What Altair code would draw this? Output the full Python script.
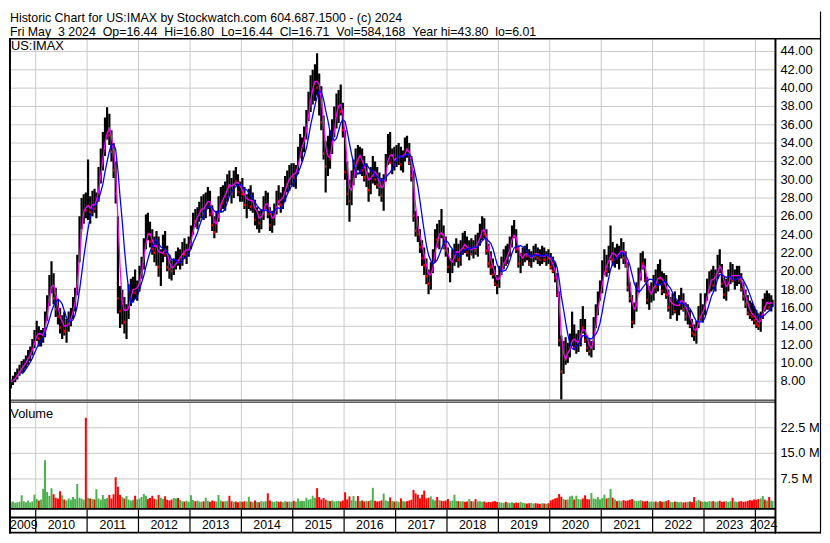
import altair as alt
import pandas as pd

# ---------------- data (half-month bins: low, high, close) ----------------
P2009 = [(7.2, 8.2, 7.9), (7.6, 8.6, 8.3), (7.9, 9.0, 8.6), (8.2, 9.4, 9.0),
         (8.6, 9.8, 9.4), (8.9, 10.2, 9.6), (9.0, 10.4, 10.0), (9.4, 10.8, 10.4),
         (9.8, 11.4, 11.0), (10.2, 11.8, 11.2), (10.8, 12.6, 12.0), (11.6, 13.6, 13.2)]
P2010 = [(12.4, 14.6, 13.6), (11.8, 14.0, 12.8), (11.8, 13.6, 13.0), (12.2, 13.8, 13.2),
         (12.8, 15.6, 15.2), (14.6, 17.4, 16.8), (16.2, 19.6, 18.8), (17.6, 21.1, 19.4),
         (16.4, 19.8, 17.2), (15.0, 18.2, 16.0), (14.2, 17.0, 15.2), (13.2, 16.0, 14.0),
         (12.6, 15.2, 14.4), (13.0, 15.6, 13.6), (12.2, 14.8, 14.2), (13.4, 15.6, 14.8),
         (14.0, 16.0, 15.4), (14.8, 17.2, 16.6), (15.6, 18.2, 17.8), (17.4, 21.8, 21.2),
         (21.0, 26.0, 25.4), (24.6, 28.0, 26.4), (25.2, 28.4, 27.6), (25.8, 28.6, 26.8)]
P2011 = [(25.6, 32.2, 27.2), (25.2, 28.2, 26.6), (26.0, 28.8, 28.0), (26.4, 29.0, 27.0),
         (25.8, 28.6, 28.2), (27.6, 31.4, 30.8), (29.6, 33.4, 32.6), (31.0, 35.2, 33.4),
         (32.6, 36.8, 35.8), (34.4, 37.9, 36.0), (33.8, 37.2, 35.0), (32.0, 35.4, 33.2),
         (30.2, 34.0, 31.2), (27.4, 32.0, 28.6), (15.4, 26.0, 17.2), (13.8, 18.4, 15.8),
         (14.2, 18.0, 16.8), (13.2, 17.2, 14.6), (12.6, 16.4, 15.8), (14.8, 18.6, 17.6),
         (16.2, 19.2, 17.8), (16.6, 19.4, 18.6), (17.0, 20.2, 17.8), (16.8, 19.0, 18.2)]
P2012 = [(17.8, 20.6, 20.2), (19.2, 21.6, 21.0), (20.2, 23.6, 23.0), (22.4, 26.2, 24.8),
         (23.4, 26.4, 24.2), (22.6, 25.4, 23.4), (21.8, 24.6, 22.6), (21.0, 23.8, 22.2),
         (20.6, 24.4, 23.6), (19.4, 23.8, 20.6), (18.4, 22.4, 22.0), (21.0, 24.0, 23.2),
         (21.6, 24.4, 22.0), (20.0, 22.8, 20.6), (19.2, 21.8, 20.4), (19.0, 21.2, 20.2),
         (19.6, 21.4, 20.8), (20.2, 22.2, 21.4), (20.6, 22.6, 21.2), (20.2, 22.4, 21.8),
         (20.6, 23.2, 22.6), (21.4, 23.6, 22.0), (20.8, 23.0, 22.4), (21.6, 23.8, 22.6)]
P2013 = [(22.4, 25.0, 24.6), (24.0, 26.4, 25.8), (24.8, 26.8, 25.6), (24.6, 27.0, 26.4),
         (25.4, 27.6, 26.8), (25.8, 28.2, 27.2), (25.6, 28.4, 26.4), (25.8, 28.6, 28.0),
         (26.8, 29.2, 28.4), (26.0, 28.8, 26.4), (24.4, 27.2, 25.2), (23.6, 26.0, 24.4),
         (24.2, 26.6, 26.0), (25.4, 28.2, 27.6), (26.4, 29.2, 28.2), (26.8, 29.4, 27.6),
         (26.6, 29.8, 29.2), (27.6, 30.6, 29.8), (28.2, 31.0, 29.4), (27.4, 30.2, 28.6),
         (28.0, 31.0, 30.4), (29.4, 31.4, 30.0), (28.2, 30.6, 28.8), (27.6, 29.8, 29.2)]
P2014 = [(27.6, 30.2, 28.6), (26.8, 29.2, 27.4), (25.8, 28.4, 27.8), (26.8, 29.0, 28.2),
         (26.6, 29.4, 27.2), (26.4, 28.6, 27.6), (25.0, 27.8, 25.8), (24.6, 27.0, 26.2),
         (24.2, 26.6, 25.4), (24.6, 26.8, 26.2), (25.6, 28.2, 27.6), (26.8, 28.8, 28.2),
         (25.8, 28.6, 26.4), (24.4, 27.0, 25.2), (24.2, 26.6, 25.8), (25.0, 27.4, 26.8),
         (26.2, 28.8, 28.2), (27.2, 29.4, 27.8), (26.4, 28.6, 27.4), (26.8, 29.2, 28.8),
         (27.6, 30.4, 30.0), (28.6, 31.0, 29.6), (28.8, 31.6, 30.6), (29.4, 31.8, 30.8)]
P2015 = [(29.2, 31.8, 30.4), (29.0, 31.6, 31.0), (30.6, 33.6, 33.2), (32.4, 35.0, 33.6),
         (32.0, 34.6, 33.8), (33.0, 35.8, 35.2), (34.4, 37.6, 36.8), (36.4, 39.6, 38.8),
         (37.4, 41.4, 40.2), (38.2, 42.0, 40.6), (38.6, 42.6, 41.4), (39.2, 43.8, 40.2),
         (37.0, 41.6, 39.6), (35.4, 40.2, 36.4), (32.2, 37.0, 33.0), (28.6, 34.2, 31.6),
         (30.4, 34.8, 33.2), (31.2, 35.4, 32.4), (32.8, 36.6, 36.0), (34.6, 38.0, 37.2),
         (35.6, 39.4, 38.2), (36.2, 39.8, 38.8), (37.0, 40.4, 37.6), (34.6, 38.4, 35.6)]
P2016 = [(30.0, 35.4, 31.0), (27.2, 32.0, 28.6), (25.4, 30.0, 27.8), (27.2, 31.0, 30.2),
         (29.4, 32.2, 31.6), (30.2, 33.4, 32.8), (31.0, 33.8, 32.2), (30.6, 33.6, 33.0),
         (30.4, 33.4, 31.2), (29.8, 32.6, 30.4), (29.2, 31.8, 30.6), (27.6, 30.8, 29.0),
         (28.4, 31.4, 30.8), (29.6, 32.6, 31.6), (29.4, 32.0, 30.2), (29.0, 31.4, 29.6),
         (28.2, 30.8, 29.4), (27.6, 30.2, 28.4), (26.6, 30.6, 30.2), (29.8, 32.8, 32.4),
         (31.6, 35.0, 33.6), (31.8, 35.2, 32.0), (30.6, 33.4, 32.6), (31.0, 33.6, 31.8)]
P2017 = [(31.4, 33.8, 32.6), (31.6, 34.0, 33.2), (31.0, 33.6, 31.8), (30.8, 33.2, 32.8),
         (32.0, 34.6, 33.8), (32.4, 34.8, 33.4), (31.6, 34.0, 32.0), (29.8, 32.6, 30.6),
         (25.4, 31.0, 26.2), (23.8, 26.6, 24.6), (23.2, 26.0, 24.2), (22.0, 24.6, 22.8),
         (20.6, 23.4, 21.6), (19.6, 22.6, 20.8), (18.6, 21.4, 19.6), (17.5, 20.2, 18.8),
         (18.0, 21.0, 20.4), (19.8, 22.4, 21.8), (21.0, 24.6, 23.8), (22.6, 25.2, 23.6),
         (22.4, 25.6, 24.8), (23.6, 26.8, 24.2), (22.4, 25.0, 22.8), (21.6, 23.8, 22.4)]
P2018 = [(19.8, 22.6, 20.6), (18.8, 21.4, 20.8), (19.8, 22.4, 21.6), (20.6, 23.0, 22.2),
         (21.0, 23.6, 22.6), (20.4, 23.0, 21.4), (20.6, 23.4, 23.0), (21.8, 24.2, 23.2),
         (22.0, 24.4, 22.6), (21.6, 23.8, 22.2), (21.2, 23.4, 22.8), (21.8, 23.6, 22.0),
         (21.4, 23.4, 23.0), (21.8, 24.0, 22.4), (21.6, 24.2, 23.8), (22.8, 25.2, 24.6),
         (23.4, 26.0, 24.8), (23.6, 25.8, 24.2), (21.8, 24.6, 22.4), (20.4, 23.0, 21.0),
         (19.6, 22.2, 20.6), (19.2, 21.4, 19.8), (18.4, 20.6, 18.8), (17.5, 19.6, 18.6)]
P2019 = [(18.2, 20.6, 20.2), (19.6, 21.6, 20.8), (20.2, 22.4, 21.6), (20.6, 22.8, 21.0),
         (20.8, 23.0, 22.6), (21.6, 23.8, 23.2), (22.6, 25.0, 24.6), (23.6, 25.6, 24.0),
         (22.0, 24.6, 22.6), (20.4, 22.8, 21.0), (19.8, 22.0, 21.6), (20.6, 22.6, 21.8),
         (21.0, 22.8, 22.2), (21.2, 23.0, 21.8), (20.6, 22.4, 21.0), (20.4, 22.2, 21.6),
         (21.0, 22.8, 22.4), (21.2, 23.0, 21.8), (20.8, 22.6, 21.6), (20.6, 22.4, 21.4),
         (20.8, 22.8, 22.2), (21.0, 22.6, 21.4), (20.6, 22.2, 21.8), (20.8, 22.4, 21.6)]
P2020 = [(20.2, 22.0, 20.6), (19.8, 21.6, 20.2), (18.8, 21.0, 19.4), (17.2, 19.8, 17.6),
         (11.8, 17.8, 12.6), (6.01, 13.0, 9.2), (8.8, 12.4, 11.4), (9.8, 12.8, 10.6),
         (10.0, 12.2, 11.2), (10.6, 13.2, 12.6), (11.8, 15.6, 13.4), (11.4, 14.2, 11.8),
         (11.0, 13.2, 12.0), (11.2, 13.6, 12.8), (11.8, 14.8, 14.2), (13.2, 16.2, 14.0),
         (12.2, 14.8, 12.6), (11.2, 13.0, 11.8), (10.8, 12.6, 11.4), (10.6, 12.4, 11.6),
         (11.4, 15.0, 14.6), (13.8, 16.4, 15.8), (15.2, 17.8, 17.2), (16.8, 19.0, 18.0)]
P2021 = [(17.6, 21.2, 20.4), (19.6, 22.4, 21.0), (19.4, 21.8, 20.2), (19.8, 22.8, 22.2),
         (21.2, 25.0, 22.4), (20.6, 23.2, 21.4), (20.4, 22.6, 21.8), (20.8, 23.0, 21.6),
         (20.2, 22.8, 22.4), (21.4, 23.6, 22.6), (20.8, 23.2, 21.6), (20.4, 22.2, 20.8),
         (17.8, 21.0, 18.4), (16.6, 18.8, 17.2), (13.8, 17.4, 14.6), (14.2, 16.6, 15.8),
         (15.6, 18.8, 18.2), (17.6, 20.4, 19.6), (19.0, 22.0, 21.4), (20.2, 22.2, 21.0),
         (18.8, 21.4, 19.2), (16.4, 19.4, 17.0), (15.8, 18.4, 17.6), (16.6, 18.8, 18.0)]
P2022 = [(16.8, 19.6, 19.0), (17.6, 20.2, 18.4), (17.8, 20.8, 20.2), (18.6, 21.3, 19.4),
         (17.4, 20.0, 18.0), (17.6, 19.8, 19.2), (17.0, 19.6, 17.6), (15.6, 18.0, 16.2),
         (14.8, 17.2, 16.4), (15.2, 17.6, 16.8), (15.4, 17.8, 15.8), (14.6, 16.8, 16.2),
         (15.2, 17.4, 16.8), (15.8, 18.2, 17.4), (15.6, 17.6, 16.0), (14.6, 16.6, 15.2),
         (14.2, 16.4, 15.6), (13.8, 15.8, 14.2), (12.8, 14.8, 13.4), (12.4, 14.2, 13.2),
         (12.1, 14.6, 14.2), (13.8, 16.2, 15.6), (14.6, 17.6, 15.2), (14.4, 16.4, 15.8)]
P2023 = [(15.2, 17.6, 17.2), (16.8, 19.2, 18.6), (17.6, 20.0, 18.8), (17.8, 20.2, 19.8),
         (18.0, 20.6, 18.6), (17.8, 20.2, 19.8), (19.2, 21.8, 21.2), (19.8, 22.4, 20.6),
         (18.2, 20.8, 18.8), (17.0, 19.4, 17.6), (16.8, 19.2, 18.6), (17.8, 20.2, 19.6),
         (18.6, 21.0, 19.8), (18.8, 20.8, 19.2), (18.0, 20.2, 19.6), (18.4, 20.6, 19.8),
         (18.6, 20.6, 19.2), (17.8, 19.8, 18.2), (16.8, 18.8, 17.4), (16.0, 18.0, 16.6),
         (15.2, 17.4, 15.6), (14.8, 16.8, 15.4), (14.6, 16.6, 15.2), (14.2, 16.2, 14.8)]
P2024 = [(13.8, 15.8, 14.4), (13.6, 15.4, 14.2), (13.4, 15.6, 15.2), (14.8, 17.0, 16.6),
         (15.6, 17.6, 16.2), (15.8, 17.9, 17.0), (15.8, 17.6, 16.2), (15.6, 17.4, 16.6),
         (16.1, 16.9, 16.71)]

# volume per half-month bin, millions of shares
V2009 = [0.6, 0.9, 0.5, 0.7, 0.8, 2.7, 1.0, 0.7, 1.2, 0.6, 0.9, 2.9]
V2010 = [1.6, 1.2, 1.5, 4.6, 13.0, 3.7, 2.5, 4.8, 3.0, 2.0, 1.8, 3.9,
         2.7, 1.5, 1.2, 1.8, 1.4, 2.2, 1.6, 6.0, 2.0, 1.7, 1.4, 25.4]
V2011 = [2.0, 1.8, 1.6, 1.5, 4.5, 1.8, 1.4, 2.8, 1.6, 1.9, 2.8, 1.8,
         3.0, 8.0, 5.2, 2.8, 2.2, 1.8, 2.5, 1.5, 1.2, 1.4, 2.6, 1.5]
V2012 = [1.8, 2.2, 3.1, 2.6, 1.6, 1.9, 2.6, 1.7, 1.5, 2.8, 2.0, 1.6,
         2.4, 1.4, 1.2, 1.5, 1.9, 1.8, 1.9, 1.3, 1.0, 0.9, 1.1, 0.8]
V2013 = [2.7, 1.3, 1.0, 1.2, 0.9, 0.8, 1.0, 2.0, 1.1, 0.8, 1.2, 1.0,
         0.9, 2.8, 1.2, 0.9, 1.0, 1.1, 2.6, 1.0, 0.8, 0.9, 0.7, 0.9]
V2014 = [0.8, 1.0, 0.9, 2.3, 0.9, 0.7, 1.2, 0.8, 0.7, 1.0, 0.9, 1.0,
         3.3, 1.2, 0.9, 0.8, 1.0, 0.8, 0.9, 0.7, 1.0, 0.8, 0.9, 0.8]
V2015 = [1.1, 0.9, 1.8, 1.0, 1.1, 1.0, 2.0, 1.4, 1.6, 2.6, 2.0, 4.8,
         2.2, 1.5, 1.9, 1.4, 1.2, 1.0, 1.2, 0.9, 1.0, 1.1, 0.9, 1.2]
V2016 = [3.6, 1.5, 2.4, 1.3, 2.5, 1.1, 2.5, 1.0, 1.2, 0.9, 1.1, 1.0,
         1.3, 4.9, 1.1, 0.9, 1.0, 1.2, 3.2, 1.2, 1.0, 2.1, 1.0, 0.9]
V2017 = [1.0, 0.8, 1.8, 1.0, 0.9, 1.0, 1.2, 1.4, 4.3, 3.3, 2.9, 1.8,
         2.9, 4.1, 1.8, 2.0, 2.4, 1.5, 1.2, 2.2, 1.3, 1.1, 1.0, 1.2]
V2018 = [1.6, 1.0, 1.2, 2.9, 1.1, 1.0, 0.9, 1.0, 0.8, 0.9, 1.6, 1.0,
         0.9, 1.6, 0.9, 1.0, 0.8, 0.9, 0.6, 0.8, 0.7, 0.9, 1.0, 0.8]
V2019 = [0.7, 0.6, 0.5, 0.8, 0.6, 0.5, 0.7, 0.4, 0.6, 0.5, 0.8, 0.5,
         0.4, 0.3, 0.4, 0.5, 0.3, 0.4, 0.3, 0.2, 0.4, 0.3, 0.2, 0.4]
V2020 = [1.2, 1.5, 1.8, 2.0, 3.1, 2.3, 1.6, 1.4, 1.5, 2.4, 2.6, 1.5,
         2.6, 1.6, 1.5, 1.8, 2.7, 1.6, 1.5, 3.4, 1.8, 1.6, 2.2, 1.5]
V2021 = [1.9, 2.9, 1.8, 2.0, 4.6, 2.0, 1.5, 1.0, 1.2, 1.0, 1.3, 1.1,
         1.2, 1.4, 1.6, 1.2, 1.0, 1.1, 1.3, 1.0, 0.9, 1.1, 0.8, 0.9]
V2022 = [0.8, 0.9, 0.7, 1.0, 0.8, 0.9, 1.0, 1.3, 0.8, 0.7, 0.9, 0.8,
         0.7, 0.8, 0.6, 0.7, 0.8, 0.9, 0.7, 2.2, 1.0, 1.4, 1.0, 0.8]
V2023 = [0.9, 0.8, 1.0, 0.9, 1.0, 0.8, 0.9, 1.1, 0.8, 0.9, 1.0, 0.8,
         1.0, 2.0, 0.9, 0.8, 0.9, 1.0, 0.8, 0.9, 1.1, 1.3, 1.2, 1.5]
V2024 = [1.4, 1.6, 1.8, 2.5, 1.4, 1.2, 2.2, 1.2, 1.0]

PRICE_TICKS = [8, 10, 12, 14, 16, 18, 20, 22, 24, 26, 28, 30, 32, 34, 36, 38, 40, 42, 44]
VOL_TICKS = [7.5, 15.0, 22.5]
GRID_YEARS = list(range(2010, 2025))
LABEL_YEARS = list(range(2009, 2025))

HEADER1 = "Historic Chart for US:IMAX by Stockwatch.com 604.687.1500 - (c) 2024"
HEADER2 = ("Fri May\u00a0\u00a03 2024\u00a0\u00a0Op=16.44\u00a0\u00a0Hi=16.80\u00a0\u00a0Lo=16.44"
           "\u00a0\u00a0Cl=16.71\u00a0\u00a0Vol=584,168\u00a0\u00a0Year hi=43.80\u00a0\u00a0lo=6.01")

# ---------------- build table ----------------
YEARS = list(range(2009, 2025))
PRICES = [P2009, P2010, P2011, P2012, P2013, P2014, P2015, P2016,
          P2017, P2018, P2019, P2020, P2021, P2022, P2023, P2024]
VOLS = [V2009, V2010, V2011, V2012, V2013, V2014, V2015, V2016,
        V2017, V2018, V2019, V2020, V2021, V2022, V2023, V2024]
rows = []
for yr, plist, vlist in zip(YEARS, PRICES, VOLS):
    assert len(plist) == len(vlist), (yr, len(plist), len(vlist))
    m0 = 7 if yr == 2009 else 1
    for i, ((lo, hi, cl), v) in enumerate(zip(plist, vlist)):
        month = m0 + i // 2
        day = 8 if i % 2 == 0 else 23
        rows.append(dict(date=f"{yr}-{month:02d}-{day:02d}", lo=lo, hi=hi, cl=cl, vol=v))
rows[-1]["date"] = "2024-05-02"
df = pd.DataFrame(rows)
df["prev"] = df["cl"].shift(1).fillna(df["cl"].iloc[0])

# ---------------- layout ----------------
W, H = 774, 527
FONT = "Liberation Sans"
GRID = "#c8c8c8"
TOP = 27.5          # y of the thick line under the header (chart px)
D0 = pd.Timestamp("2009-06-25")
D1 = pd.Timestamp("2024-05-22 17:00")
X = alt.Scale(type="utc", domain=[alt.DateTime(year=2009, month=6, date=25, utc=True),
                                  alt.DateTime(year=2024, month=5, date=22, hours=17, utc=True)])
PY = alt.Scale(domain=[-8.616, 48.357], nice=False, zero=False)
VY = alt.Scale(domain=[-8.46, 144.44], nice=False, zero=False)

px_per_day = W / ((D1 - D0) / pd.Timedelta(days=1))
label_rows = []
for y in LABEL_YEARS:
    a = max(pd.Timestamp(f"{y}-01-01"), D0)
    b = min(pd.Timestamp(f"{y + 1}-01-01"), D1)
    m = a + (b - a) / 2
    m = max(m, D0 + pd.Timedelta(days=15 / px_per_day))
    m = min(m, D1 - pd.Timedelta(days=12 / px_per_day))
    label_rows.append({"lbl": str(y), "mid": m.strftime("%Y-%m-%dT%H:%M:%SZ")})
label_df = pd.DataFrame(label_rows)
grid_df = pd.DataFrame({"date": [f"{y}-01-01" for y in GRID_YEARS]})
pgrid_df = pd.DataFrame({"p": PRICE_TICKS})
vgrid_df = pd.DataFrame({"v": VOL_TICKS})
ONE = alt.Data(values=[{"k": 1}])


def xd(field="date:T"):
    return alt.X(field, scale=X, axis=None)


def hline(y, x1, x2, w):
    return alt.Chart(ONE).mark_rule(color="black", strokeWidth=w).encode(
        x=alt.value(x1), x2=alt.value(x2), y=alt.value(y))


def vline(x, y1, y2, w):
    return alt.Chart(ONE).mark_rule(color="black", strokeWidth=w).encode(
        x=alt.value(x), y=alt.value(y1), y2=alt.value(y2))


def label(txt, x, y, size=13):
    return alt.Chart(ONE).mark_text(align="left", baseline="alphabetic", font=FONT,
                                    fontSize=size, color="black").encode(
        x=alt.value(x), y=alt.value(y), text=alt.value(txt))


layers = []
# grid lines
layers.append(alt.Chart(grid_df).mark_rule(color=GRID, strokeWidth=1).encode(
    x=xd(), y=alt.value(TOP + 0.8), y2=alt.value(392)))
layers.append(alt.Chart(pgrid_df).mark_rule(color=GRID, strokeWidth=1).encode(
    y=alt.Y("p:Q", scale=PY, axis=None), x=alt.value(0), x2=alt.value(W)))
layers.append(alt.Chart(grid_df).mark_rule(color=GRID, strokeWidth=1).encode(
    x=xd(), y=alt.value(395), y2=alt.value(502)))
layers.append(alt.Chart(vgrid_df).mark_rule(color=GRID, strokeWidth=1).encode(
    y=alt.Y("v:Q", scale=VY, axis=None), x=alt.value(0), x2=alt.value(W)))

# price bars
layers.append(alt.Chart(df).mark_rule(color="black", strokeWidth=2.2, clip=True).encode(
    x=xd(), y=alt.Y("lo:Q", scale=PY, axis=None), y2="hi:Q"))
layers.append(alt.Chart(df).transform_filter("datum.cl < datum.prev").transform_calculate(
    cl2="datum.cl - 0.3").mark_rule(color="#ff0000", strokeWidth=1.4, clip=True).encode(
    x=xd(), y=alt.Y("cl:Q", scale=PY, axis=None), y2="cl2:Q"))
# moving averages
layers.append(alt.Chart(df).transform_window(
    ma1="mean(cl)", frame=[-2, 0], sort=[alt.SortField("date")]
).mark_line(color="#ff00ff", strokeWidth=1.3, clip=True).encode(
    x=xd(), y=alt.Y("ma1:Q", scale=PY, axis=None)))
layers.append(alt.Chart(df).transform_window(
    window=[alt.WindowFieldDef(op="mean", field="cl", **{"as": "ma2"}),
            alt.WindowFieldDef(op="count", **{"as": "n"})],
    frame=[-6, 0], sort=[alt.SortField("date")]
).transform_filter("datum.n >= 6").mark_line(color="#0000ff", strokeWidth=1.3, clip=True).encode(
    x=xd(), y=alt.Y("ma2:Q", scale=PY, axis=None)))

# volume
layers.append(alt.Chart(df).mark_rule(strokeWidth=2.0, clip=True).encode(
    x=xd(), y=alt.Y("vol:Q", scale=VY, axis=None), y2=alt.value(501.3),
    color=alt.condition("datum.cl >= datum.prev", alt.value("#4cb04c"), alt.value("#ff0000"))))

# right-hand labels
layers.append(alt.Chart(pgrid_df).mark_text(align="left", baseline="middle", font=FONT,
                                            fontSize=13, color="black").encode(
    x=alt.value(779), y=alt.Y("p:Q", scale=PY, axis=None), text=alt.Text("p:Q", format=".2f")))
layers.append(alt.Chart(vgrid_df).transform_calculate(
    lbl="format(datum.v, '.1f') + ' M'").mark_text(
    align="left", baseline="middle", font=FONT, fontSize=13, color="black").encode(
    x=alt.value(779), y=alt.Y("v:Q", scale=VY, axis=None), text="lbl:N"))

# bottom date strip
layers.append(alt.Chart(grid_df).mark_rule(color="black", strokeWidth=1.2).encode(
    x=xd(), y=alt.value(503), y2=alt.value(526)))
layers.append(alt.Chart(label_df).mark_text(align="center", baseline="middle", font=FONT,
                                            fontSize=12.5, color="black").encode(
    x=xd("mid:T"), y=alt.value(518.8), text="lbl:N"))

# frame
layers += [
    hline(TOP, 0, 820, 1.6),
    vline(1, TOP, 527, 2),
    vline(774, TOP, 527, 2),
    vline(819.5, 0, 527, 1.2),
    hline(392.4, 0, 774, 1),
    hline(394.4, 0, 774, 1),
    hline(502.3, 0, 774, 1.8),
    hline(511, 0, 774, 2),
    hline(526.2, 0, 820, 1.6),
]

# texts
layers += [
    label(HEADER1, 1, 10.2, 12.5),
    label(HEADER2, 1, 24.2, 12.5),
    label("US:IMAX", 2, 39, 13),
    label("Volume", 1.3, 410, 13),
]

chart = alt.layer(*layers).resolve_scale(y="independent").properties(
    width=W, height=H, padding=0, background="white"
).configure_view(strokeWidth=0)

chart.save("out.html", embed_options={"renderer": "svg", "actions": False})
